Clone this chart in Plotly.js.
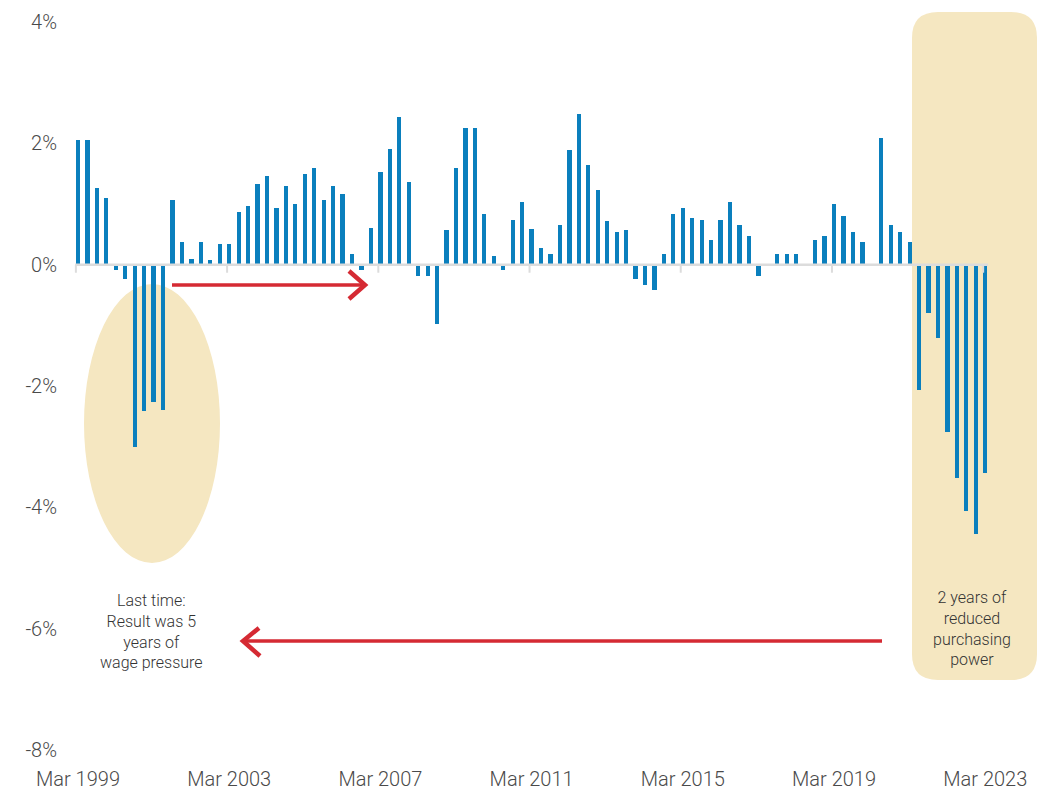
<!DOCTYPE html>
<html>
<head>
<meta charset="utf-8">
<script src="https://cdn.plot.ly/plotly-3.0.1.min.js"></script>
<style>
  html, body { margin: 0; padding: 0; background: #fff; }
  #chart { width: 1041px; height: 790px; }
</style>
</head>
<body>
<div id="chart"></div>
<script>
// Quarterly change (%), Mar 1999 .. Mar 2023
const values = [
  2.05, 2.05, 1.27, 1.10, -0.09, -0.24, -3.01, -2.42, -2.27, -2.40,
  1.07, 0.38, 0.10, 0.38, 0.08, 0.35, 0.35, 0.87, 0.97, 1.33,
  1.47, 0.94, 1.30, 1.00, 1.50, 1.60, 1.07, 1.30, 1.17, 0.18,
  -0.08, 0.61, 1.53, 1.91, 2.44, 1.37, -0.18, -0.18, -0.97, 0.58,
  1.60, 2.26, 2.26, 0.84, 0.15, -0.08, 0.74, 1.04, 0.59, 0.28,
  0.18, 0.66, 1.89, 2.49, 1.65, 1.24, 0.72, 0.54, 0.58, -0.23,
  -0.34, -0.42, 0.18, 0.84, 0.94, 0.77, 0.74, 0.40, 0.74, 1.04,
  0.66, 0.48, -0.18, 0.02, 0.18, 0.18, 0.18, -0.02, 0.40, 0.48,
  1.00, 0.81, 0.54, 0.38, 0.01, 2.09, 0.66, 0.54, 0.38, -2.07,
  -0.80, -1.21, -2.75, -3.52, -4.06, -4.44, -3.44
];
const monthNames = ['Mar', 'Jun', 'Sep', 'Dec'];
const startYear = 1999;
const categories = values.map((v, i) => monthNames[i % 4] + ' ' + (startYear + Math.floor(i / 4)));
const tickLabels = ['Mar 1999', 'Mar 2003', 'Mar 2007', 'Mar 2011', 'Mar 2015', 'Mar 2019', 'Mar 2023'];
const yTickVals = [-8, -6, -4, -2, 0, 2, 4];
const yTickText = ['-8%', '-6%', '-4%', '-2%', '0%', '2%', '4%'];
const noteLeft = 'Last time:<br>Result was 5<br>years of<br>wage pressure';
const noteRight = '2 years of<br>reduced<br>purchasing<br>power';

// layout geometry (pixels)
const W = 1041, H = 790;
const M = { l: 62, r: 0, t: 7, b: 28 };
const PW = W - M.l - M.r, PH = H - M.t - M.b;
const px = x => (x - M.l) / PW;
const py = y => (H - M.b - y) / PH;

const highlight = '#f5e7c1';
const red = '#d52a33';
const tickFont = { family: 'Roboto, Liberation Sans Narrow, sans-serif', size: 20, weight: 300, color: '#4a4a4a' };
const noteFont = { family: 'Roboto, Inter, sans-serif', size: 16, weight: 300, color: '#333' };

function roundRect(x0, y0, x1, y1, r) {
  const P = (x, y) => px(x).toFixed(5) + ',' + py(y).toFixed(5);
  return 'M' + P(x0 + r, y0) + ' L' + P(x1 - r, y0) + ' Q' + P(x1, y0) + ' ' + P(x1, y0 + r) +
    ' L' + P(x1, y1 - r) + ' Q' + P(x1, y1) + ' ' + P(x1 - r, y1) +
    ' L' + P(x0 + r, y1) + ' Q' + P(x0, y1) + ' ' + P(x0, y1 - r) +
    ' L' + P(x0, y0 + r) + ' Q' + P(x0, y0) + ' ' + P(x0 + r, y0) + ' Z';
}
function pathPx(points) {
  return points.map((p, i) => (i ? 'L' : 'M') + px(p[0]).toFixed(5) + ',' + py(p[1]).toFixed(5)).join(' ');
}

const shapes = [
  { type: 'circle', xref: 'paper', yref: 'paper', layer: 'below',
    x0: px(84), x1: px(220), y0: py(563), y1: py(284),
    fillcolor: highlight, line: { width: 0 } },
  { type: 'path', xref: 'paper', yref: 'paper', layer: 'below',
    path: roundRect(912, 12, 1037, 680, 26), fillcolor: highlight, line: { width: 0 } },
  // zero baseline
  { type: 'line', xref: 'x', yref: 'y', layer: 'above',
    x0: -0.3, x1: values.length - 1 + 0.3, y0: 0, y1: 0,
    line: { color: '#dcdcdc', width: 2.5 } },
  // arrows
  { type: 'path', xref: 'paper', yref: 'paper', path: pathPx([[172, 285], [364, 285]]), line: { color: red, width: 3.5 } },
  { type: 'path', xref: 'paper', yref: 'paper', path: pathPx([[349, 271], [365, 285], [349, 299]]), line: { color: red, width: 4.5 } },
  { type: 'path', xref: 'paper', yref: 'paper', path: pathPx([[882, 641], [245, 641]]), line: { color: red, width: 3.5 } },
  { type: 'path', xref: 'paper', yref: 'paper', path: pathPx([[259, 628], [243, 641], [260, 656]]), line: { color: red, width: 4.5 } }
];
// small tick marks under the baseline at labelled quarters
tickLabels.forEach(lbl => {
  const idx = categories.indexOf(lbl);
  shapes.push({ type: 'line', xref: 'x', yref: 'y', layer: 'above',
    x0: idx - 0.22, x1: idx - 0.22, ysizemode: 'pixel', yanchor: 0, y0: 0, y1: -8,
    line: { color: '#dcdcdc', width: 2 } });
});

const trace = {
  type: 'bar', x: categories, y: values, width: 0.45,
  marker: { color: '#0a7fbd', line: { width: 0 } },
  hoverinfo: 'x+y'
};

const layout = {
  width: W, height: H,
  margin: M,
  paper_bgcolor: '#fff', plot_bgcolor: 'rgba(0,0,0,0)',
  showlegend: false,
  bargap: 0,
  xaxis: {
    type: 'category', range: [-1.69, 101.9], fixedrange: true,
    tickmode: 'array', tickvals: tickLabels, ticktext: tickLabels,
    showgrid: false, zeroline: false, showline: false, ticks: '',
    tickfont: tickFont, tickangle: 0, ticklabelstandoff: 3
  },
  yaxis: {
    range: [-8.2, 4.25], fixedrange: true,
    tickmode: 'array', tickvals: yTickVals, ticktext: yTickText,
    showgrid: false, zeroline: false, showline: false, ticks: '',
    tickfont: tickFont, ticklabelstandoff: 4
  },
  shapes: shapes,
  annotations: [
    { xref: 'paper', yref: 'paper', x: px(151), y: py(631.5), xanchor: 'center', yanchor: 'middle',
      text: noteLeft, showarrow: false, align: 'center', font: noteFont },
    { xref: 'paper', yref: 'paper', x: px(972), y: py(628.5), xanchor: 'center', yanchor: 'middle',
      text: noteRight, showarrow: false, align: 'center', font: noteFont }
  ]
};

Plotly.newPlot('chart', [trace], layout, { displayModeBar: false, staticPlot: true });
</script>
</body>
</html>
